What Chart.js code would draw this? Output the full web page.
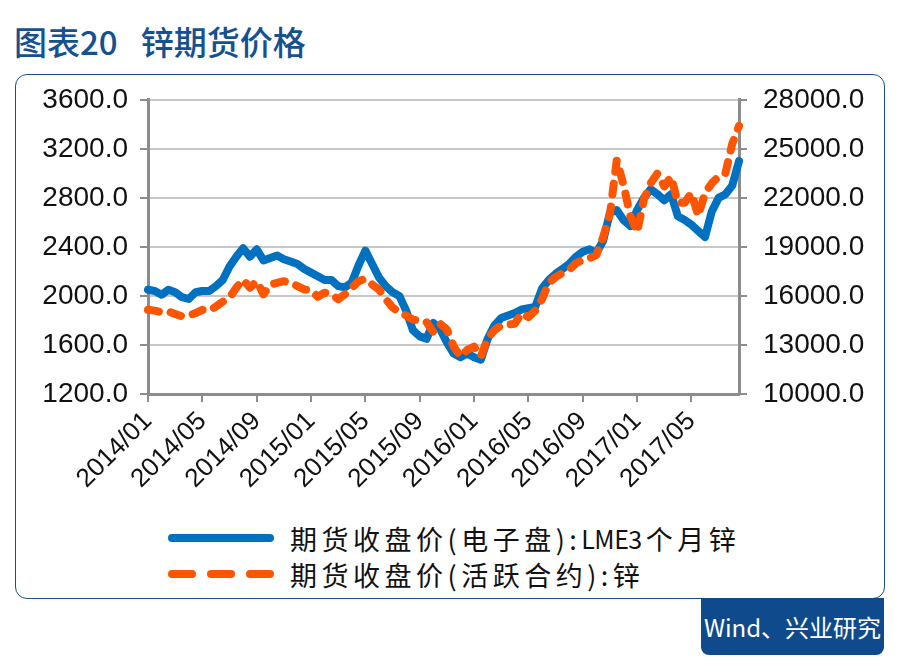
<!DOCTYPE html>
<html>
<head>
<meta charset="utf-8">
<script src="https://cdn.jsdelivr.net/npm/chart.js@4.4.0/dist/chart.umd.min.js"></script>
<style>
  body { margin: 0; width: 900px; height: 664px; background: #fff; position: relative; overflow: hidden;
         font-family: "Noto Sans CJK SC", "Noto Sans", sans-serif; }
  #title { position: absolute; left: 14px; top: 17px; font-size: 33px; font-weight: 500; color: #15508f; }
  #title .gap { display: inline-block; width: 23px; }
  #frame { position: absolute; left: 15px; top: 74px; width: 870px; height: 525px; box-sizing: border-box;
           border: 1.5px solid #1b4f80; border-radius: 12px; }
  #chart { position: absolute; left: 16px; top: 67px; }
  .legend-row { position: absolute; left: 168px; height: 30px; display: flex; align-items: center;
                font-size: 27px; letter-spacing: 4.5px; color: #111; white-space: nowrap; }
  .legend-row .latin { font-size: 25px; letter-spacing: -0.5px; margin-right: 4px; }
  .swatch { width: 106px; height: 30px; position: relative; margin-right: 16px; flex: none; }
  .solid { position: absolute; left: 0; top: 11px; width: 106px; height: 8px; border-radius: 4px; background: #0070c0; }
  .dash { position: absolute; top: 11px; width: 28px; height: 8px; border-radius: 4px; background: #ff5500; }
  #source { position: absolute; left: 701px; top: 598px; width: 183px; height: 57px; background: #0e4a8c;
            border-radius: 0 0 8px 8px; color: #fff; font-size: 24px; line-height: 57px; text-align: center; }
</style>
</head>
<body>
<div id="title">图表20<span class="gap"></span>锌期货价格</div>
<div id="frame"></div>
<canvas id="chart" width="868" height="438"></canvas>
<div class="legend-row" style="top:523px"><div class="swatch"><div class="solid"></div></div>期货收盘价(电子盘):<span class="latin">LME3</span>个月锌</div>
<div class="legend-row" style="top:559px"><div class="swatch"><div class="dash" style="left:0"></div><div class="dash" style="left:39px"></div><div class="dash" style="left:78px"></div></div>期货收盘价(活跃合约):锌</div>
<div id="source">Wind、兴业研究</div>
<script>
// half-month points, 2014/01 to 2017/08
const dates = [
  '2014/01/01','2014/01/16','2014/02/01','2014/02/16','2014/03/01','2014/03/16','2014/04/01','2014/04/16',
  '2014/05/01','2014/05/16','2014/06/01','2014/06/16','2014/07/01','2014/07/16','2014/08/01','2014/08/16',
  '2014/09/01','2014/09/16','2014/10/01','2014/10/16','2014/11/01','2014/11/16','2014/12/01','2014/12/16',
  '2015/01/01','2015/01/16','2015/02/01','2015/02/16','2015/03/01','2015/03/16','2015/04/01','2015/04/16',
  '2015/05/01','2015/05/16','2015/06/01','2015/06/16','2015/07/01','2015/07/16','2015/08/01','2015/08/16',
  '2015/09/01','2015/09/16','2015/10/01','2015/10/16','2015/11/01','2015/11/16','2015/12/01','2015/12/16',
  '2016/01/01','2016/01/16','2016/02/01','2016/02/16','2016/03/01','2016/03/16','2016/04/01','2016/04/16',
  '2016/05/01','2016/05/16','2016/06/01','2016/06/16','2016/07/01','2016/07/16','2016/08/01','2016/08/16',
  '2016/09/01','2016/09/16','2016/10/01','2016/10/16','2016/11/01','2016/11/16','2016/12/01','2016/12/16',
  '2017/01/01','2017/01/16','2017/02/01','2017/02/16','2017/03/01','2017/03/16','2017/04/01','2017/04/16',
  '2017/05/01','2017/05/16','2017/06/01','2017/06/16','2017/07/01','2017/07/16','2017/08/01','2017/08/16'
];

// LME 3个月锌 (左轴)
const lmeZinc = [
  2050, 2040, 2010, 2050, 2030, 1990, 1975, 2030, 2040, 2040, 2080, 2130, 2240, 2320, 2390, 2320,
  2380, 2290, 2310, 2330, 2300, 2280, 2260, 2220, 2190, 2160, 2130, 2130, 2080, 2070, 2110, 2250,
  2370, 2260, 2150, 2080, 2030, 2000, 1880, 1720, 1670, 1650, 1780, 1730, 1620, 1530, 1500, 1530,
  1500, 1480, 1650, 1760, 1820, 1840, 1860, 1890, 1900, 1910, 2060, 2130, 2180, 2220, 2260, 2320,
  2360, 2380, 2350, 2450, 2680, 2700, 2620, 2570, 2700, 2800, 2870, 2830, 2780, 2830, 2650, 2620,
  2580, 2530, 2480, 2690, 2800, 2830, 2900, 3100
];

// 沪锌活跃合约 (右轴)
const shfeZinc = [
  15150, 15100, 15000, 15050, 14900, 14750, 14800, 14950, 15150, 15100, 15350, 15650, 15900, 16500, 17000, 16500,
  16900, 16100, 16700, 16800, 16900, 16800, 16600, 16400, 16350, 15950, 16200, 16100, 15800, 16100, 16500, 16900,
  17050, 16700, 16400, 15800, 15300, 15000, 14800, 14550, 14500, 14400, 13800, 14300, 13950, 12900, 12300, 12700,
  12900, 12300, 13400, 13900, 14200, 14250, 14300, 14950, 14700, 15100, 15800, 16800, 17150, 17400, 17600, 18000,
  18200, 18300, 18500, 19600, 21000, 24300, 22800, 20900, 19900, 21900, 22900, 23500, 22700, 23300, 21700, 21700,
  22300, 20900, 22300, 22900, 23300, 23500, 25300, 26400
];

const majorMonths = ['01', '05', '09'];
function isMajor(i) {
  const d = dates[i];
  return d.slice(8) === '01' && majorMonths.includes(d.slice(5, 7));
}

const axisGray = '#8c8c8c';
const tickFont = { family: 'Liberation Sans, Arial, sans-serif', size: 28 };

new Chart(document.getElementById('chart'), {
  type: 'line',
  data: {
    labels: dates,
    datasets: [{
      data: lmeZinc,
      yAxisID: 'y',
      borderColor: '#0070c0',
      borderWidth: 8,
      borderCapStyle: 'round',
      borderJoinStyle: 'round',
      pointRadius: 0,
      order: 2
    }, {
      data: shfeZinc,
      yAxisID: 'y1',
      borderColor: '#ff5500',
      borderWidth: 8,
      borderDash: [11, 12],
      borderCapStyle: 'round',
      borderJoinStyle: 'round',
      pointRadius: 0,
      order: 1
    }]
  },
  options: {
    responsive: false,
    animation: false,
    layout: { padding: 0 },
    plugins: { legend: { display: false }, tooltip: { enabled: false } },
    scales: {
      x: {
        grid: {
          drawOnChartArea: false,
          tickLength: 8,
          lineWidth: 2,
          tickColor: ctx => isMajor(ctx.index) ? axisGray : 'transparent'
        },
        border: { color: axisGray, width: 3 },
        ticks: {
          autoSkip: false,
          minRotation: 45,
          maxRotation: 45,
          padding: 4,
          color: '#111',
          font: { family: 'Liberation Sans, Arial, sans-serif', size: 26 },
          callback: (v, i) => isMajor(i) ? dates[i].slice(0, 7) : ''
        },
        afterFit: s => { s.height = 111; }
      },
      y: {
        position: 'left',
        min: 1200, max: 3600,
        grid: { color: '#c8c8c8', lineWidth: 2, tickLength: 8, tickColor: axisGray },
        border: { color: axisGray, width: 3 },
        ticks: { stepSize: 400, padding: 12, color: '#111', font: tickFont, callback: v => v.toFixed(1) },
        afterFit: s => { s.width = 132; }
      },
      y1: {
        position: 'right',
        min: 10000, max: 28000,
        grid: { drawOnChartArea: false, lineWidth: 2, tickLength: 8, tickColor: axisGray },
        border: { color: axisGray, width: 3 },
        ticks: { stepSize: 3000, padding: 16, color: '#111', font: tickFont, callback: v => v.toFixed(1) },
        afterFit: s => { s.width = 145; }
      }
    }
  }
});
</script>
</body>
</html>
